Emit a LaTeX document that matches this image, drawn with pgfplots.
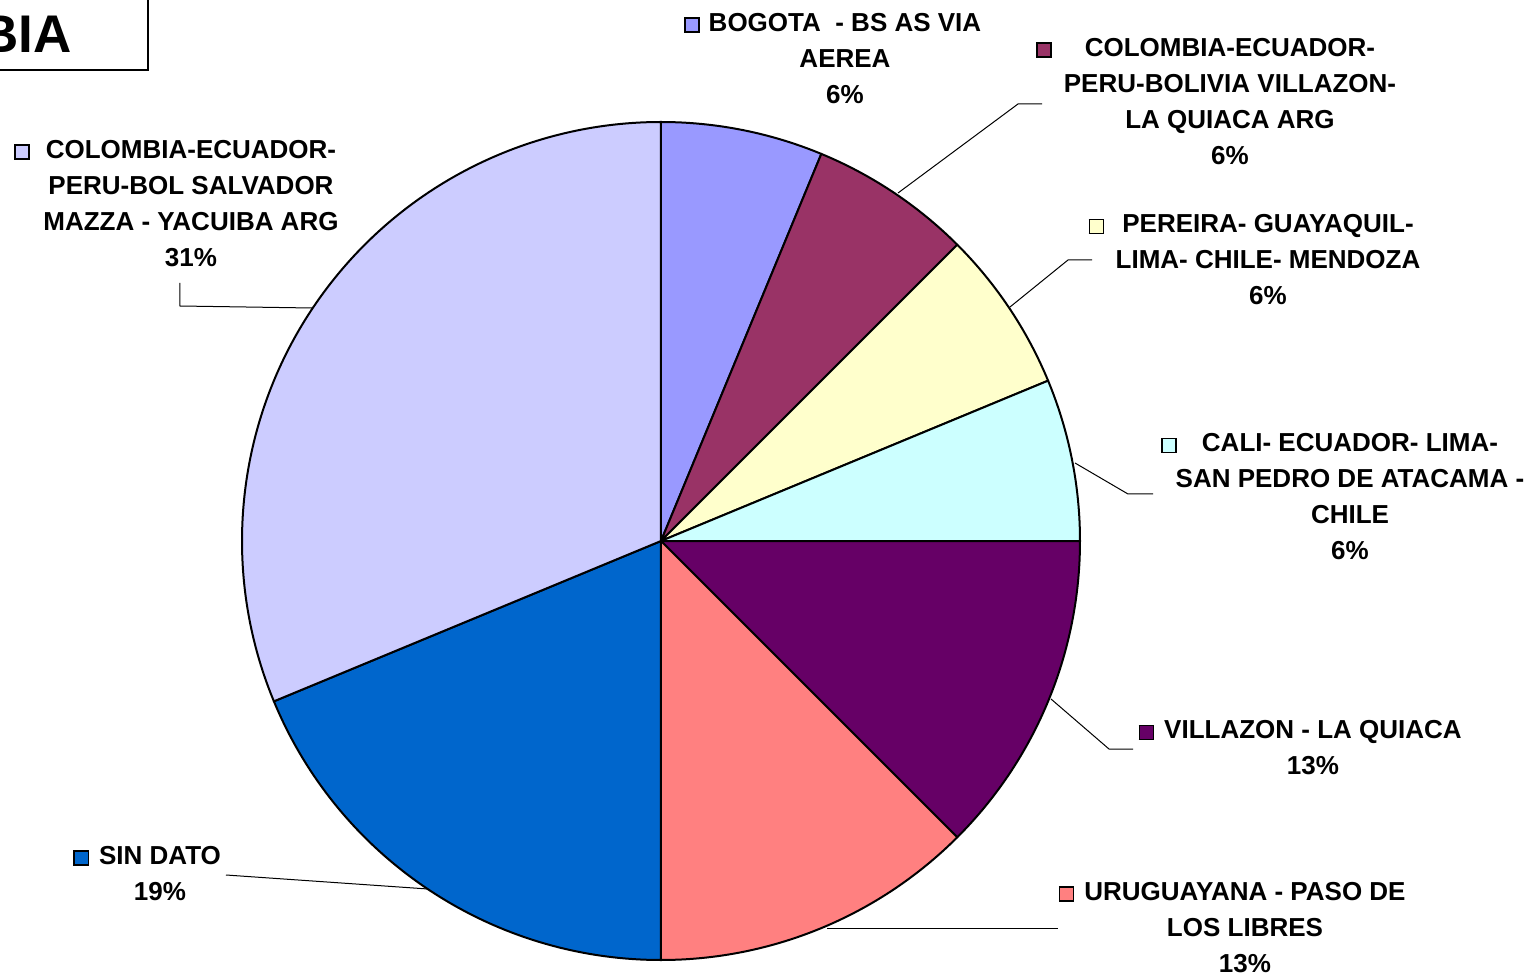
\documentclass[border=0pt]{standalone}
\usepackage{pgfplots}
\usepackage{pgfplotstable}
\usepackage{fontspec}
\setmainfont{Liberation Sans}
\pgfplotsset{compat=1.18}

\definecolor{c0}{HTML}{9999FF}
\definecolor{c1}{HTML}{993366}
\definecolor{c2}{HTML}{FFFFCC}
\definecolor{c3}{HTML}{CCFFFF}
\definecolor{c4}{HTML}{660066}
\definecolor{c5}{HTML}{FF8080}
\definecolor{c6}{HTML}{0066CC}
\definecolor{c7}{HTML}{CCCCFF}

% slice values (share out of 16), clockwise from 12 o'clock
\pgfplotstableread{
idx value
0 1
1 1
2 1
3 1
4 2
5 2
6 3
7 5
}\piedata

\newcommand\sq[1]{{\setlength\fboxsep{0pt}\setlength\fboxrule{0.75pt}\fcolorbox{black}{#1}{\rule{0pt}{6.3pt}\hspace{6.3pt}}}}
\tikzset{lbl/.style={font=\fontsize{13}{18}\selectfont\bfseries, align=center, inner sep=0pt}}

\begin{document}
\begin{tikzpicture}
% cumulative angles
\def\cum{0}
\pgfplotstablegetrowsof{\piedata}
\pgfmathtruncatemacro\nrows{\pgfplotsretval-1}
\pgfplotsforeachungrouped \i in {0,...,\nrows}{%
  \pgfplotstablegetelem{\i}{value}\of\piedata
  \pgfmathsetmacro\sa{90-360*\cum/16}%
  \pgfmathsetmacro\cum{\cum+\pgfplotsretval}%
  \pgfmathsetmacro\ea{90-360*\cum/16}%
  \expandafter\xdef\csname sa\i\endcsname{\sa}%
  \expandafter\xdef\csname ea\i\endcsname{\ea}%
}
\begin{axis}[
  width=768.5pt, height=489pt, scale only axis,
  xmin=0, xmax=1537, ymin=0, ymax=978, y dir=reverse,
  hide axis, clip=false,
]
\coordinate (bbsw) at (axis cs:0,978);
\coordinate (bbne) at (axis cs:1537,0);
% pie slices
\pgfplotsinvokeforeach{0,...,7}{
  \filldraw[fill=c#1, draw=black, line width=1pt, line join=round]
    (axis cs:661,541) -- ++(\csname sa#1\endcsname:209.5pt)
    arc[start angle=\csname sa#1\endcsname, end angle=\csname ea#1\endcsname, radius=209.5pt] -- cycle;
}
% leader lines
\addplot[black, line width=0.5pt, no marks] coordinates {(898,193) (1018,104) (1042,104)};
\addplot[black, line width=0.5pt, no marks] coordinates {(1010,307) (1068,260) (1092,260)};
\addplot[black, line width=0.5pt, no marks] coordinates {(1075,463) (1128,494) (1153,494)};
\addplot[black, line width=0.5pt, no marks] coordinates {(1051,699) (1109,749) (1133,749)};
\addplot[black, line width=0.5pt, no marks] coordinates {(827,928) (1058,928)};
\addplot[black, line width=0.5pt, no marks] coordinates {(428,889) (226,875)};
\addplot[black, line width=0.5pt, no marks] coordinates {(312,308) (180,306) (180,283)};
% labels
\node[lbl] at (axis cs:845,58.5) {\llap{\sq{c0}\hspace{4.5pt}}BOGOTA\ \ - BS AS VIA\\AEREA\\6\%};
\node[lbl] at (axis cs:1230,101.5) {\llap{\sq{c1}\hspace{16.5pt}}COLOMBIA-ECUADOR-\\PERU-BOLIVIA VILLAZON-\\LA QUIACA ARG\\6\%};
\node[lbl] at (axis cs:1268,260) {\llap{\sq{c2}\hspace{9pt}}PEREIRA- GUAYAQUIL-\\LIMA- CHILE- MENDOZA\\6\%};
\node[lbl] at (axis cs:1350,497) {\llap{\sq{c3}\hspace{12.5pt}}CALI- ECUADOR- LIMA-\\SAN PEDRO DE ATACAMA -\\CHILE\\6\%};
\node[lbl] at (axis cs:1313,748) {\llap{\sq{c4}\hspace{5pt}}VILLAZON - LA QUIACA\\13\%};
\node[lbl] at (axis cs:1245,927.5) {\llap{\sq{c5}\hspace{5pt}}URUGUAYANA - PASO DE\\LOS LIBRES\\13\%};
\node[lbl] at (axis cs:160,873.5) {\llap{\sq{c6}\hspace{5pt}}SIN DATO\\19\%};
\node[lbl] at (axis cs:191,203.5) {\llap{\sq{c7}\hspace{8pt}}COLOMBIA-ECUADOR-\\PERU-BOL SALVADOR\\MAZZA - YACUIBA ARG\\31\%};
% title box (cropped)
\draw[black, line width=0.8pt] (axis cs:-500,-20) rectangle (axis cs:148,70);
\node[anchor=base east, inner sep=0pt, font=\fontsize{26.5}{30}\selectfont\bfseries] at (axis cs:72,53) {COLOMBIA};
\end{axis}
\pgfresetboundingbox
\useasboundingbox (bbsw) rectangle (bbne);
\end{tikzpicture}
\end{document}
